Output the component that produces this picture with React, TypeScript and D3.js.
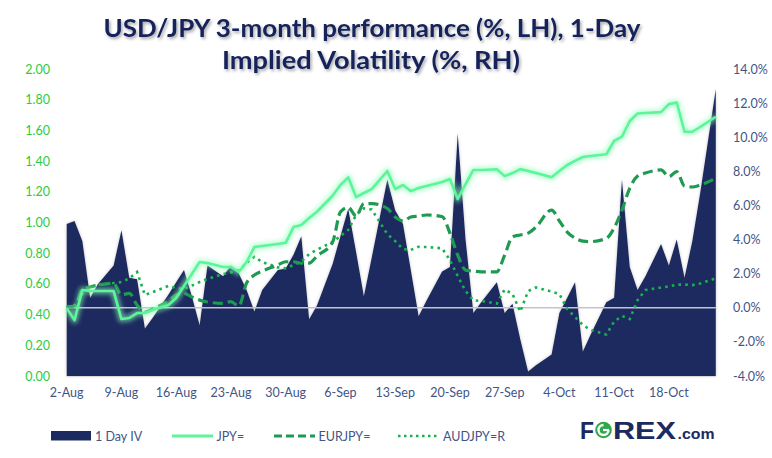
import React from 'react';
import * as d3 from 'd3';

const dates = [
  "2021-08-02","2021-08-03","2021-08-04","2021-08-05","2021-08-06",
  "2021-08-08","2021-08-09","2021-08-10","2021-08-11","2021-08-12","2021-08-13",
  "2021-08-15","2021-08-16","2021-08-17","2021-08-18","2021-08-19","2021-08-20",
  "2021-08-22","2021-08-23","2021-08-24","2021-08-25","2021-08-26","2021-08-27",
  "2021-08-29","2021-08-30","2021-08-31","2021-09-01","2021-09-02","2021-09-03",
  "2021-09-05","2021-09-06","2021-09-07","2021-09-08","2021-09-09","2021-09-10",
  "2021-09-12","2021-09-13","2021-09-14","2021-09-15","2021-09-16","2021-09-17",
  "2021-09-19","2021-09-20","2021-09-21","2021-09-22","2021-09-23","2021-09-24",
  "2021-09-26","2021-09-27","2021-09-28","2021-09-29","2021-09-30","2021-10-01",
  "2021-10-03","2021-10-04","2021-10-05","2021-10-06","2021-10-07","2021-10-08",
  "2021-10-10","2021-10-11","2021-10-12","2021-10-13","2021-10-14","2021-10-15",
  "2021-10-17","2021-10-18","2021-10-19","2021-10-20","2021-10-21","2021-10-22",
  "2021-10-24"
];

// 1 Day IV (left axis)
const iv = [
  0.99,1.01,0.88,0.51,0.60,
  0.72,0.95,0.64,0.63,0.31,0.38,
  0.53,0.61,0.69,0.52,0.33,0.72,
  0.65,0.72,0.67,0.56,0.42,0.56,
  0.69,0.70,0.79,0.91,0.37,0.46,
  0.73,0.91,1.09,0.81,0.52,0.77,
  1.28,1.08,0.99,0.69,0.39,0.49,
  0.68,0.71,1.58,0.89,0.41,0.48,
  0.61,0.41,0.47,0.24,0.03,0.07,
  0.14,0.41,0.51,0.61,0.16,0.27,
  0.48,0.51,1.28,0.71,0.56,0.65,
  0.86,0.72,0.89,0.64,0.88,1.19,
  1.87
];

// JPY= (right axis, %)
const jpy = [
  -0.03,-0.72,1.04,0.98,0.98,
  0.98,-0.66,-0.60,-0.31,-0.31,-0.13,
  0.16,0.57,1.28,1.98,2.68,2.62,
  2.39,2.39,2.10,2.68,3.56,3.62,
  3.74,3.81,4.73,4.85,5.26,5.63,
  6.57,7.20,7.65,6.49,6.73,6.96,
  8.02,6.96,7.20,6.84,7.02,7.14,
  7.37,7.55,6.38,7.25,8.08,8.08,
  8.12,7.72,7.90,8.13,8.02,7.90,
  7.65,8.02,8.37,8.61,8.84,8.90,
  9.00,9.78,10.03,10.95,11.39,11.42,
  11.47,11.94,12.04,10.32,10.32,10.60,
  11.20
];

// EURJPY= (right axis, %)
const eurjpy = [
  0.06,0.10,1.04,1.22,1.33,
  1.43,0.75,0.85,0.16,-0.25,-0.07,
  0.40,0.75,0.85,0.63,0.45,0.34,
  0.26,0.36,0.10,1.45,1.92,2.15,
  2.51,2.70,2.70,2.61,2.62,3.03,
  3.85,5.61,5.89,5.38,6.11,6.11,
  5.82,5.32,5.09,5.32,5.38,5.44,
  5.35,4.38,3.09,2.21,2.15,2.11,
  2.11,3.09,4.15,4.27,4.38,4.73,
  5.73,5.09,4.44,4.09,3.91,3.88,
  4.07,4.68,5.73,7.02,7.72,7.90,
  8.08,7.69,7.98,7.14,7.08,7.20,
  7.59
];

// AUDJPY=R (right axis, %)
const audjpy = [
  0.06,0.16,0.81,1.22,1.36,
  1.45,1.51,1.72,2.10,0.75,0.92,
  1.28,1.16,1.10,1.30,1.51,1.69,
  1.98,2.07,2.21,2.62,2.99,2.68,
  2.37,2.31,2.51,2.71,3.15,3.41,
  3.85,4.21,4.56,5.44,5.83,5.76,
  4.32,3.91,3.44,3.39,3.58,3.56,
  3.49,2.80,1.86,0.98,0.44,0.40,
  0.25,1.07,0.81,-0.23,0.98,1.19,
  0.95,0.81,-0.07,-0.54,-1.01,-1.30,
  -1.57,-0.81,-0.48,-0.66,0.45,1.04,
  1.19,1.25,1.36,1.36,1.33,1.42,
  1.73
];

const tickDates = ["2021-08-02","2021-08-09","2021-08-16","2021-08-23","2021-08-30","2021-09-06","2021-09-13","2021-09-20","2021-09-27","2021-10-04","2021-10-11","2021-10-18"];
const tickLabels = ["2-Aug","9-Aug","16-Aug","23-Aug","30-Aug","6-Sep","13-Sep","20-Sep","27-Sep","4-Oct","11-Oct","18-Oct"];
const leftTicks = [0,0.2,0.4,0.6,0.8,1.0,1.2,1.4,1.6,1.8,2.0];
const rightTicks = [-4,-2,0,2,4,6,8,10,12,14];
const titleLines = ["USD/JPY 3-month performance (%, LH), 1-Day", "Implied Volatility (%, RH)"];
const legendLabels = ["1 Day IV", "JPY=", "EURJPY=", "AUDJPY=R"];

const NAVY = "#1b2a5f";
const JPY_C = "#5cf59a";
const EUR_C = "#1f9a52";
const AUD_C = "#17b24f";
const LEFT_C = "#2ccc3e";
const AX_C = "#3f5587";
const FONT = "Lato, 'Open Sans', sans-serif";

export default function App() {
  const W = 772, H = 458;
  const parse = d3.timeParse("%Y-%m-%d");
  const ds = dates.map((d) => parse(d) as Date);
  const x = d3.scaleTime().domain([ds[0], ds[ds.length - 1]]).range([66.7, 715.8]);
  const yL = d3.scaleLinear().domain([0, 2]).range([376, 69]);
  const yR = d3.scaleLinear().domain([-4, 14]).range([376, 69]);

  const area = d3.area<number>().x((_, i) => x(ds[i])).y0(yL(0)).y1((d) => yL(d));
  const line = d3.line<number>().x((_, i) => x(ds[i])).y((d) => yR(d));
  const smooth = d3.line<number>().x((_, i) => x(ds[i])).y((d) => yR(d)).curve(d3.curveMonotoneX);

  const [x0, x1] = x.range();
  const rFmt = (v: number) => (v < 0 ? "-" : "") + Math.abs(v).toFixed(1) + "%";

  return (
    <svg width={W} height={H} style={{ position: 'absolute', left: 0, top: 0, background: '#fff' }}>
      <defs>
        <filter id="glow" x="-10%" y="-10%" width="120%" height="120%">
          <feGaussianBlur stdDeviation="2.2" />
        </filter>
        <filter id="tshadow" x="-5%" y="-20%" width="110%" height="150%">
          <feDropShadow dx="1.5" dy="2" stdDeviation="1.6" floodColor="#000" floodOpacity="0.35" />
        </filter>
        <filter id="soft" x="-5%" y="-5%" width="110%" height="110%">
          <feDropShadow dx="0" dy="0" stdDeviation="1.5" floodColor="#777" floodOpacity="0.45" />
        </filter>
      </defs>
      <rect x={0} y={0} width={W} height={H} fill="#fff" />

      {/* Title */}
      <g filter="url(#tshadow)" fontFamily={FONT} fontWeight={700} fill="#16235a" fontSize={24} textAnchor="middle">
        <text x={372} y={37} textLength={537} lengthAdjust="spacingAndGlyphs">{titleLines[0]}</text>
        <text x={371} y={69} textLength={298} lengthAdjust="spacingAndGlyphs">{titleLines[1]}</text>
      </g>

      {/* Area: 1 Day IV */}
      <path d={area(iv) || ''} fill={NAVY} filter="url(#soft)" />

      {/* bottom axis line */}
      <line x1={x0} x2={x1} y1={376.5} y2={376.5} stroke="#d9d9d9" strokeWidth={1} />
      {/* secondary zero line */}
      <line x1={x0} x2={x1} y1={yR(0)} y2={yR(0)} stroke="#c3c3cf" strokeWidth={1.6} />

      {/* AUDJPY dotted */}
      <path d={line(audjpy) || ''} fill="none" stroke={AUD_C} strokeWidth={2.6} strokeDasharray="2.6 4.2" />
      {/* EURJPY dashed */}
      <path d={smooth(eurjpy) || ''} fill="none" stroke={EUR_C} strokeWidth={3.2} strokeDasharray="10 5" />
      {/* JPY glow + line */}
      <path d={line(jpy) || ''} fill="none" stroke="#8dffb8" strokeOpacity={0.55} strokeWidth={7} filter="url(#glow)" strokeLinejoin="round" />
      <path d={line(jpy) || ''} fill="none" stroke={JPY_C} strokeWidth={2.6} strokeLinejoin="round" />

      {/* Left axis labels */}
      <g fontFamily={FONT} fontSize={12.5} fill={LEFT_C} textAnchor="end">
        {leftTicks.map((t) => (
          <text key={t} x={50} y={yL(t) + 4.5}>{t.toFixed(2)}</text>
        ))}
      </g>
      {/* Right axis labels */}
      <g fontFamily={FONT} fontSize={12.5} fill={AX_C} textAnchor="start">
        {rightTicks.map((t) => (
          <text key={t} x={733} y={yR(t) + 4.5}>{rFmt(t)}</text>
        ))}
      </g>
      {/* X labels */}
      <g fontFamily={FONT} fontSize={12.5} fill={AX_C} textAnchor="middle">
        {tickDates.map((d, i) => (
          <text key={d} x={x(parse(d) as Date)} y={397}>{tickLabels[i]}</text>
        ))}
      </g>

      {/* Legend */}
      <g fontFamily={FONT} fontSize={12.5} fill={AX_C}>
        <rect x={51} y={431} width={40} height={9.5} fill={NAVY} />
        <text x={95} y={441}>{legendLabels[0]}</text>
        <line x1={172} x2={213} y1={436} y2={436} stroke={JPY_C} strokeWidth={3} />
        <text x={216.5} y={441}>{legendLabels[1]}</text>
        <line x1={274} x2={315} y1={436} y2={436} stroke={EUR_C} strokeWidth={3} strokeDasharray="8 4" />
        <text x={318.5} y={441}>{legendLabels[2]}</text>
        <line x1={398} x2={438} y1={436} y2={436} stroke={AUD_C} strokeWidth={2.5} strokeDasharray="2.5 3.5" />
        <text x={443} y={441}>{legendLabels[3]}</text>
      </g>

      {/* FOREX.com logo */}
      <g fontFamily="'Liberation Sans', Arial, sans-serif" fontWeight={700} fill="#1b2a5f">
        <text x={580} y={438.5} fontSize={23} textLength={14} lengthAdjust="spacingAndGlyphs">F</text>
        <circle cx={603.5} cy={430} r={8.3} fill="#2ea84a" />
        <path d="M603.5 425 a5 5 0 1 0 5 5" fill="none" stroke="#fff" strokeWidth={2.4} />
        <line x1={603} x2={609} y1={430} y2={430} stroke="#fff" strokeWidth={2.2} />
        <text x={613} y={438.5} fontSize={23} textLength={63} lengthAdjust="spacingAndGlyphs">REX</text>
        <text x={677.5} y={438.5} fontSize={15} textLength={37} lengthAdjust="spacingAndGlyphs">.com</text>
      </g>
    </svg>
  );
}
